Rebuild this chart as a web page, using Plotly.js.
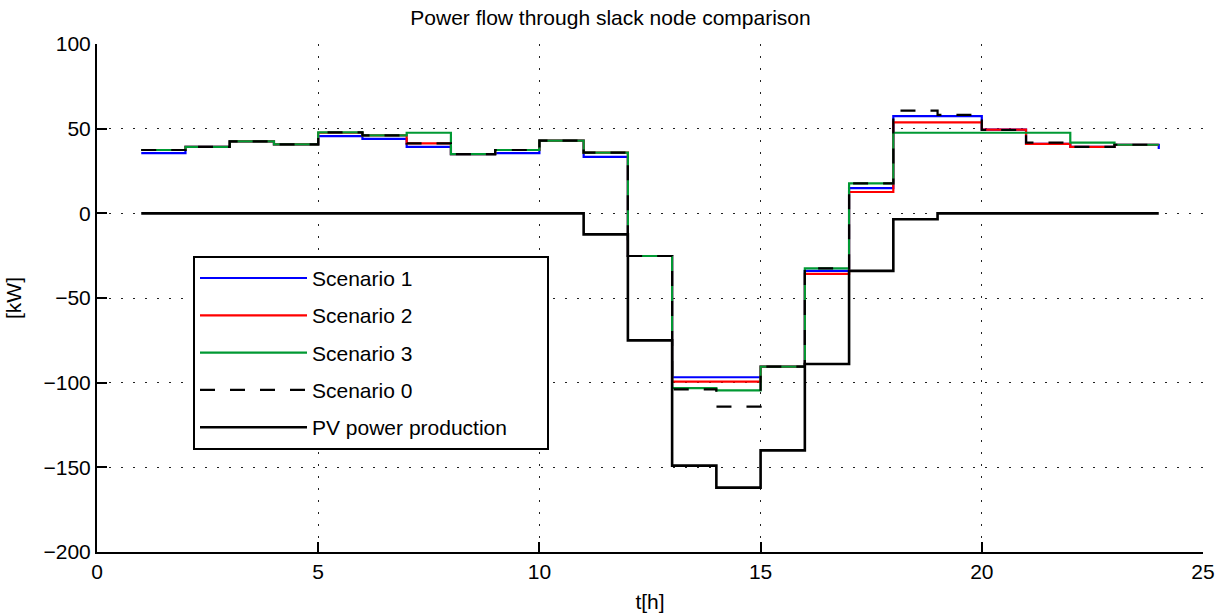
<!DOCTYPE html>
<html>
<head>
<meta charset="utf-8">
<script src="https://cdn.plot.ly/plotly-3.0.1.min.js"></script>
<style>html,body{margin:0;padding:0;background:#fff;}#chart{width:1221px;height:614px;}</style>
</head>
<body>
<div id="chart"></div>
<script>
const hours = [1,2,3,4,5,6,7,8,9,10,11,12,13,14,15,16,17,18,19,20,21,22,23,24];
const scenario1 = [35.6,39.3,42.5,40.7,45.6,44.0,39.3,35.0,35.6,42.9,33.4,-25.2,-96.8,-96.8,-90.5,-34.0,14.9,57.4,57.4,49.4,41.0,39.3,40.5,38.0];
const scenario2 = [37.4,39.3,42.5,40.7,47.6,46.0,41.3,35.0,37.4,42.9,35.8,-25.2,-99.4,-99.4,-90.5,-35.8,12.6,53.7,53.7,49.4,41.0,39.3,40.5,40.5];
const scenario3 = [37.4,39.3,42.5,40.7,47.8,46.0,47.6,35.0,37.4,42.9,35.8,-25.2,-103.2,-104.5,-90.5,-32.5,17.7,47.6,47.6,47.6,47.6,41.7,40.5,40.5];
const scenario0 = [37.4,39.3,42.5,40.7,47.8,46.0,41.3,35.0,37.4,42.9,35.8,-25.2,-104.0,-114.2,-90.5,-32.5,17.7,60.6,58.2,49.2,41.7,39.3,40.5,40.5];
const pvProduction = [0,0,0,0,0,0,0,0,0,0,-12.4,-75.0,-149.0,-162.0,-140.0,-89.0,-34.0,-3.5,0,0,0,0,0,0];
const seriesNames = ["Scenario 1","Scenario 2","Scenario 3","Scenario 0","PV power production"];
const xTicks = [0,5,10,15,20,25];
const yTicks = [-200,-150,-100,-50,0,50,100];

const FONT = "Liberation Sans, Arial, Helvetica, sans-serif";
const FS = 21;
function stairs(y, name, color, dash, width, grp){
  return {x: hours, y: y, name: name, type: 'scatter', mode: 'lines',
    line: {shape: 'hv', color: color, width: width, dash: dash},
    legendgroup: grp, hoverinfo: 'x+y'};
}
const traces = [
  stairs(scenario1, seriesNames[0], '#0000ff', 'solid', 2.2, 'g1'),
  stairs(scenario2, seriesNames[1], '#ff0000', 'solid', 2.2, 'g2'),
  stairs(scenario3, seriesNames[2], '#009933', 'solid', 2.2, 'g3'),
  stairs(scenario0, seriesNames[3], '#000000', '15px,15px', 2.2, 'g4'),
  stairs(pvProduction, seriesNames[4] + '\u00A0\u00A0\u00A0\u00A0\u00A0\u00A0', '#000000', 'solid', 2.6, 'g5')
];
const axisCommon = {
  showline: true, linecolor: '#000', linewidth: 2, mirror: false,
  ticks: 'inside', ticklen: 10, tickwidth: 2, tickcolor: '#000',
  showgrid: true, gridcolor: '#222', gridwidth: 1, griddash: '2px,10px',
  zeroline: false, tickfont: {family: FONT, size: FS, color: '#000'}
};
const layout = {
  width: 1221, height: 614,
  paper_bgcolor: '#fff', plot_bgcolor: '#fff',
  margin: {l: 97, r: 18, t: 44, b: 62},
  font: {family: FONT, color: '#000'},
  title: {text: 'Power flow through slack node comparison', font: {family: FONT, size: FS, color: '#000'},
    x: 0.5, xanchor: 'center', xref: 'container', y: 1 - 18/614, yanchor: 'middle', yref: 'container'},
  xaxis: Object.assign({}, axisCommon, {range: [0, 25], tickvals: xTicks, ticktext: xTicks.map(String),
    title: {text: 't[h]', font: {family: FONT, size: FS, color: '#000'}, standoff: 12}}),
  yaxis: Object.assign({}, axisCommon, {range: [-200, 100], tickvals: yTicks, ticktext: yTicks.map(v => v < 0 ? '\u2212' + Math.abs(v) : String(v)),
    title: {text: '[kW]', font: {family: FONT, size: FS, color: '#000'}, standoff: 16}}),
  showlegend: true,
  legend: {x: 0.0868, y: 0.583, xanchor: 'left', yanchor: 'top',
    bgcolor: '#fff', bordercolor: '#000', borderwidth: 2,
    font: {family: FONT, size: FS, color: '#000'},
    tracegroupgap: 7, itemwidth: 107, traceorder: 'grouped'}
};
Plotly.newPlot('chart', traces, layout, {displayModeBar: false, staticPlot: true});
</script>
</body>
</html>
